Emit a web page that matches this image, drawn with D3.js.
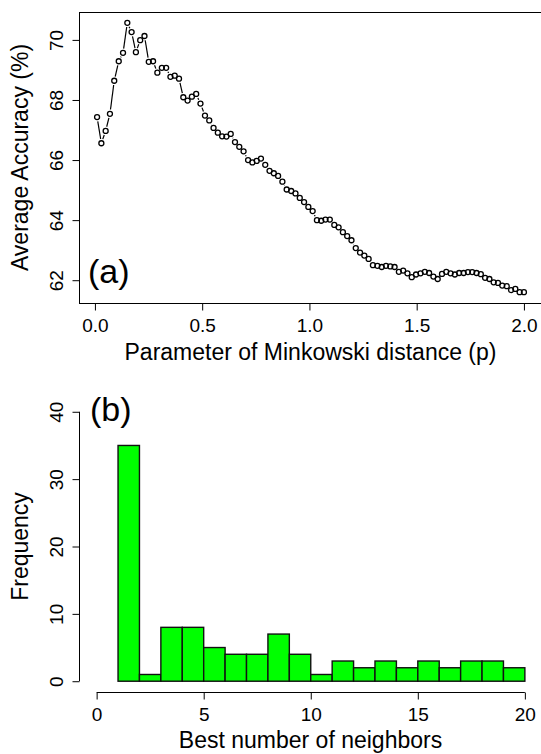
<!DOCTYPE html>
<html>
<head>
<meta charset="utf-8">
<script src="https://cdn.jsdelivr.net/npm/d3@7"></script>
<style>
  body { margin: 0; background: #fff; }
  svg text { font-family: "Liberation Sans", Arial, sans-serif; fill: #000; }
</style>
</head>
<body>
<div id="chart"></div>
<script>
// (a) average accuracy vs Minkowski parameter p
const minkowskiP = [
  0.010, 0.030, 0.050, 0.070, 0.090, 0.111, 0.131, 0.151, 0.171, 0.191,
  0.211, 0.231, 0.251, 0.271, 0.291, 0.312, 0.332, 0.352, 0.372, 0.392,
  0.412, 0.432, 0.452, 0.472, 0.492, 0.513, 0.533, 0.553, 0.573, 0.593,
  0.613, 0.633, 0.653, 0.673, 0.693, 0.714, 0.734, 0.754, 0.774, 0.794,
  0.814, 0.834, 0.854, 0.874, 0.894, 0.915, 0.935, 0.955, 0.975, 0.995,
  1.015, 1.035, 1.055, 1.075, 1.095, 1.116, 1.136, 1.156, 1.176, 1.196,
  1.216, 1.236, 1.256, 1.276, 1.296, 1.317, 1.337, 1.357, 1.377, 1.397,
  1.417, 1.437, 1.457, 1.477, 1.497, 1.518, 1.538, 1.558, 1.578, 1.598,
  1.618, 1.638, 1.658, 1.678, 1.698, 1.719, 1.739, 1.759, 1.779, 1.799,
  1.819, 1.839, 1.859, 1.879, 1.899, 1.920, 1.940, 1.960, 1.980, 2.000
];
const avgAccuracy = [
  67.43, 66.56, 66.97, 67.54, 68.64, 69.29, 69.57, 70.57, 70.26, 69.59,
  69.99, 70.13, 69.27, 69.29, 68.91, 69.07, 69.07, 68.77, 68.81, 68.71,
  68.09, 67.98, 68.11, 68.20, 67.88, 67.48, 67.32, 67.07, 66.91, 66.79,
  66.78, 66.87, 66.60, 66.44, 66.29, 66.00, 65.92, 65.97, 66.05, 65.84,
  65.64, 65.56, 65.47, 65.28, 65.02, 64.97, 64.89, 64.74, 64.60, 64.44,
  64.30, 64.00, 63.98, 64.02, 64.02, 63.84, 63.76, 63.60, 63.47, 63.33,
  63.07, 62.92, 62.82, 62.71, 62.50, 62.48, 62.44, 62.48, 62.46, 62.44,
  62.28, 62.32, 62.23, 62.10, 62.19, 62.23, 62.28, 62.24, 62.12, 62.04,
  62.21, 62.28, 62.23, 62.19, 62.24, 62.24, 62.27, 62.27, 62.24, 62.20,
  62.08, 62.04, 61.93, 61.91, 61.82, 61.80, 61.67, 61.71, 61.60, 61.60
];
const pTicks = [0, 0.5, 1, 1.5, 2];
const accTicks = [62, 64, 66, 68, 70];

// (b) histogram of best number of neighbors
const binStarts = [1, 2, 3, 4, 5, 6, 7, 8, 9, 10, 11, 12, 13, 14, 15, 16, 17, 18, 19];
const binCounts = [35, 1, 8, 8, 5, 4, 4, 7, 4, 1, 3, 2, 3, 2, 3, 2, 3, 3, 2];
const freqTicks = [0, 10, 20, 30, 40];
const neighborTicks = [0, 5, 10, 15, 20];

function createCharts() {

    const svg = d3.select("#chart")
        .append("svg")
        .attr("width", 541)
        .attr("height", 754);

    const tickFont = 19;
    const titleFont = 23;

    // ---------- PANEL (a) ----------
    // R style: 4% padding around data range
    const pExt = d3.extent(minkowskiP);
    const aExt = d3.extent(avgAccuracy);
    const padP = (pExt[1] - pExt[0]) * 0.04;
    const padA = (aExt[1] - aExt[0]) * 0.04;

    const x = d3.scaleLinear()
        .domain([pExt[0] - padP, pExt[1] + padP])
        .range([80, 541]);
    const y = d3.scaleLinear()
        .domain([aExt[0] - padA, aExt[1] + padA])
        .range([303, 12]);

    const a = svg.append("g");

    // box
    a.append("rect")
        .attr("x", 79.5).attr("y", 12.5)
        .attr("width", 463).attr("height", 291)
        .attr("fill", "none").attr("stroke", "#000").attr("stroke-width", 1);

    // x axis
    const xAxisA = a.append("g")
        .attr("transform", "translate(0,303.5)")
        .call(d3.axisBottom(x).tickValues(pTicks).tickSize(7).tickPadding(8).tickFormat(d3.format(".1f")));
    xAxisA.select(".domain").remove();
    xAxisA.selectAll("text").style("font-size", tickFont + "px");

    // y axis (rotated labels like R)
    const yAxisA = a.append("g")
        .attr("transform", "translate(79.5,0)")
        .call(d3.axisLeft(y).tickValues(accTicks).tickSize(7));
    yAxisA.select(".domain").remove();
    yAxisA.selectAll("text")
        .attr("transform", "rotate(-90)")
        .attr("x", 0).attr("y", -16.5).attr("dy", 0)
        .style("text-anchor", "middle")
        .style("font-size", tickFont + "px");

    // lines between points, type = "b" (gap around each point)
    const gap = 4.3;
    const segs = [];
    for (let i = 1; i < minkowskiP.length; i++) {
        const x1 = x(minkowskiP[i - 1]), y1 = y(avgAccuracy[i - 1]);
        const x2 = x(minkowskiP[i]), y2 = y(avgAccuracy[i]);
        const len = Math.hypot(x2 - x1, y2 - y1);
        if (len > 2 * gap) {
            const ux = (x2 - x1) / len, uy = (y2 - y1) / len;
            segs.push([x1 + ux * gap, y1 + uy * gap, x2 - ux * gap, y2 - uy * gap]);
        }
    }
    a.selectAll("line.seg")
        .data(segs)
        .enter().append("line")
        .attr("class", "seg")
        .attr("x1", d => d[0]).attr("y1", d => d[1])
        .attr("x2", d => d[2]).attr("y2", d => d[3])
        .attr("stroke", "#000").attr("stroke-width", 1.2);

    // open circles
    a.selectAll("circle")
        .data(avgAccuracy)
        .enter().append("circle")
        .attr("cx", (d, i) => x(minkowskiP[i]))
        .attr("cy", d => y(d))
        .attr("r", 2.5)
        .attr("fill", "none")
        .attr("stroke", "#000")
        .attr("stroke-width", 1.3);

    // axis titles
    a.append("text")
        .attr("x", 310.5).attr("y", 360)
        .attr("text-anchor", "middle")
        .style("font-size", titleFont + "px")
        .text("Parameter of Minkowski distance (p)");
    a.append("text")
        .attr("transform", "translate(28,157.5) rotate(-90)")
        .attr("text-anchor", "middle")
        .style("font-size", titleFont + "px")
        .text("Average Accuracy (%)");

    a.append("text")
        .attr("x", 88).attr("y", 283)
        .style("font-size", "34px")
        .text("(a)");

    // ---------- PANEL (b) ----------
    const xb = d3.scaleLinear().domain([-0.8, 20.8]).range([79.5, 542]);
    const yb = d3.scaleLinear().domain([-1.6, 41.6]).range([692, 401]);

    const b = svg.append("g");

    b.selectAll("rect.bar")
        .data(binCounts)
        .enter().append("rect")
        .attr("class", "bar")
        .attr("x", (d, i) => xb(binStarts[i]))
        .attr("width", (d, i) => xb(binStarts[i] + 1) - xb(binStarts[i]))
        .attr("y", d => yb(d))
        .attr("height", d => yb(0) - yb(d))
        .attr("fill", "#00ff00")
        .attr("stroke", "#111")
        .attr("stroke-width", 1.4);

    // x axis, line only between first and last tick
    const xAxisB = b.append("g")
        .attr("transform", "translate(0,692.5)")
        .call(d3.axisBottom(xb).tickValues(neighborTicks).tickSize(7).tickPadding(8));
    xAxisB.select(".domain").remove();
    xAxisB.selectAll("text").style("font-size", tickFont + "px");
    b.append("line")
        .attr("x1", xb(0)).attr("x2", xb(20))
        .attr("y1", 692.5).attr("y2", 692.5)
        .attr("stroke", "#000");

    const yAxisB = b.append("g")
        .attr("transform", "translate(79.5,0)")
        .call(d3.axisLeft(yb).tickValues(freqTicks).tickSize(7));
    yAxisB.select(".domain").remove();
    yAxisB.selectAll("text")
        .attr("transform", "rotate(-90)")
        .attr("x", 0).attr("y", -16.5).attr("dy", 0)
        .style("text-anchor", "middle")
        .style("font-size", tickFont + "px");
    b.append("line")
        .attr("x1", 79.5).attr("x2", 79.5)
        .attr("y1", yb(0)).attr("y2", yb(40))
        .attr("stroke", "#000");

    b.append("text")
        .attr("x", 310.5).attr("y", 748)
        .attr("text-anchor", "middle")
        .style("font-size", titleFont + "px")
        .text("Best number of neighbors");
    b.append("text")
        .attr("transform", "translate(28,546.5) rotate(-90)")
        .attr("text-anchor", "middle")
        .style("font-size", titleFont + "px")
        .text("Frequency");

    b.append("text")
        .attr("x", 90).attr("y", 421)
        .style("font-size", "34px")
        .text("(b)");
}

document.addEventListener("DOMContentLoaded", createCharts);
</script>
</body>
</html>
